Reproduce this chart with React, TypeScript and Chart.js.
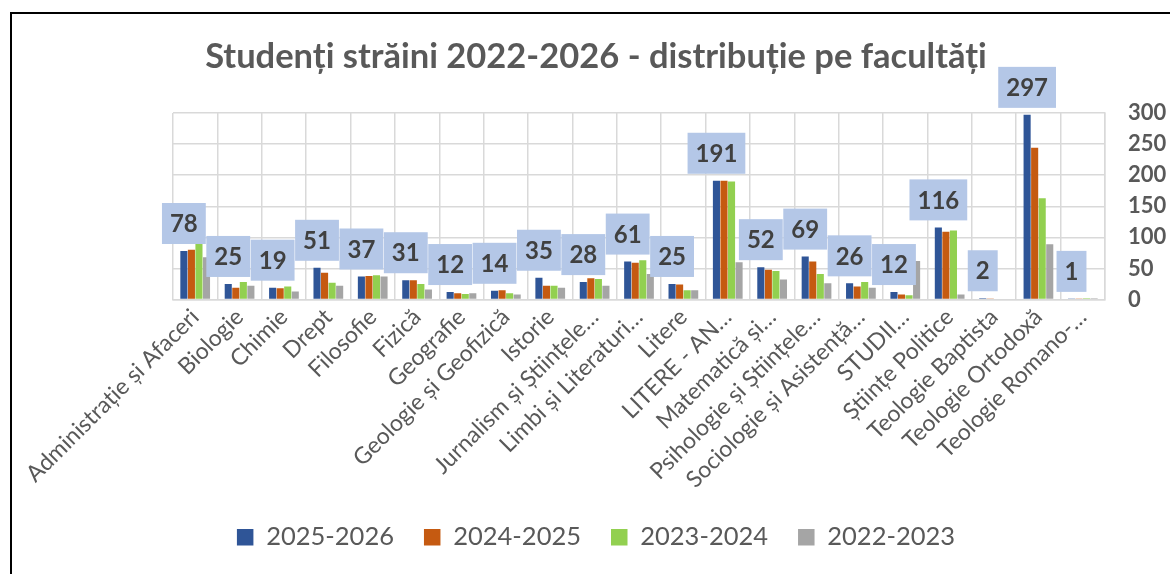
import React, { useEffect, useRef } from "react";
import { Chart, registerables } from "chart.js";

Chart.register(...registerables);

const categories = [
  "Administrație și Afaceri",
  "Biologie",
  "Chimie",
  "Drept",
  "Filosofie",
  "Fizică",
  "Geografie",
  "Geologie și Geofizică",
  "Istorie",
  "Jurnalism și Științele…",
  "Limbi și Literaturi…",
  "Litere",
  "LITERE - AN…",
  "Matematică și…",
  "Psihologie și Științele…",
  "Sociologie și Asistență…",
  "STUDII…",
  "Științe Politice",
  "Teologie Baptista",
  "Teologie Ortodoxă",
  "Teologie Romano-…",
];

const seriesNames = ["2025-2026", "2024-2025", "2023-2024", "2022-2023"];
const values2025_2026 = [78, 25, 19, 51, 37, 31, 12, 14, 35, 28, 61, 25, 191, 52, 69, 26, 12, 116, 2, 297, 1];
const values2024_2025 = [80, 19, 18, 43, 38, 31, 10, 15, 22, 34, 59, 24, 191, 48, 61, 21, 8, 109, 1, 244, 1];
const values2023_2024 = [90, 28, 21, 27, 39, 25, 9, 10, 22, 33, 63, 15, 190, 46, 41, 28, 7, 111, 0, 163, 2];
const values2022_2023 = [68, 22, 13, 22, 37, 16, 10, 8, 19, 22, 41, 15, 60, 32, 26, 19, 62, 8, 0, 89, 2];
const seriesColors = ["#2F5597", "#C55A11", "#92D050", "#A5A5A5"];
const yMin = 0;
const yMax = 300;
const yStep = 50;
const titleText = "Studenți străini 2022-2026 - distribuție pe facultăți";

const FONT = "Lato, 'Open Sans', sans-serif";

const framePlugin = {
  id: "frame",
  beforeDraw(chart: any) {
    const ctx = chart.ctx;
    ctx.save();
    ctx.fillStyle = "#ffffff";
    ctx.fillRect(0, 0, chart.width, chart.height);
    ctx.strokeStyle = "#000000";
    ctx.lineWidth = 2;
    ctx.beginPath();
    ctx.moveTo(11, chart.height);
    ctx.lineTo(11, 13);
    ctx.lineTo(chart.width, 13);
    ctx.stroke();
    ctx.restore();
  },
};

const valueBoxPlugin = {
  id: "valueBoxes",
  afterDatasetsDraw(chart: any) {
    const ctx = chart.ctx;
    const meta = chart.getDatasetMeta(0);
    const data = chart.data.datasets[0].data;
    ctx.save();
    ctx.font = `bold 24px ${FONT}`;
    meta.data.forEach((bar: any, i: number) => {
      const txt = String(data[i]);
      const w = ctx.measureText(txt).width + 16;
      const h = 41;
      const x = bar.x - w / 2;
      const y = bar.y - 7 - h;
      ctx.fillStyle = "#B4C7E7";
      ctx.fillRect(x, y, w, h);
      ctx.fillStyle = "#404040";
      ctx.textAlign = "center";
      ctx.textBaseline = "middle";
      ctx.fillText(txt, bar.x, y + h / 2 + 1);
    });
    ctx.restore();
  },
};

export default function App() {
  const canvasRef = useRef<HTMLCanvasElement | null>(null);

  useEffect(() => {
    if (!canvasRef.current) return;
    const seriesValues = [values2025_2026, values2024_2025, values2023_2024, values2022_2023];
    const chart = new Chart(canvasRef.current, {
      type: "bar",
      data: {
        labels: categories,
        datasets: seriesNames.map((name, i) => ({
          label: name,
          data: seriesValues[i],
          backgroundColor: seriesColors[i],
          borderWidth: 0,
          categoryPercentage: 0.68,
          barPercentage: 0.94,
          yAxisID: "y",
        })),
      },
      options: {
        responsive: false,
        animation: false,
        devicePixelRatio: 1,
        layout: { padding: { left: 22, right: 0, top: 0, bottom: 14 } },
        plugins: {
          title: {
            display: true,
            text: titleText,
            color: "#595959",
            font: { family: FONT, size: 34.5, weight: "bold" },
            padding: { top: 36.3, bottom: 35.3 },
          },
          legend: {
            position: "bottom",
            labels: {
              color: "#595959",
              font: { family: FONT, size: 25.5 },
              boxWidth: 16.5,
              boxHeight: 16.5,
              padding: 30,
            },
          },
          tooltip: { enabled: false },
        },
        scales: {
          x: {
            grid: { color: "#D9D9D9", lineWidth: 1.5, offset: true, drawTicks: false },
            border: { color: "#D9D9D9", width: 1.5 },
            ticks: {
              color: "#595959",
              font: { family: FONT, size: 23 },
              maxRotation: 45,
              minRotation: 45,
              autoSkip: false,
              padding: 4,
            },
            afterFit: (s: any) => {
              s.height = 195;
            },
          },
          yl: {
            position: "left",
            display: true,
            grid: { display: false },
            border: { display: false },
            ticks: { display: false },
            afterFit: (s: any) => {
              s.width = 151;
            },
          },
          y: {
            position: "right",
            min: yMin,
            max: yMax,
            grid: { color: "#D9D9D9", lineWidth: 1.5, drawTicks: false },
            border: { color: "#D9D9D9", width: 1.5 },
            ticks: {
              stepSize: yStep,
              color: "#595959",
              font: { family: FONT, size: 22, weight: "bold" },
              padding: 23,
            },
            afterFit: (s: any) => {
              s.width = 65;
            },
          },
        },
      },
      plugins: [framePlugin, valueBoxPlugin],
    });
    return () => chart.destroy();
  }, []);

  return (
    <div style={{ position: "fixed", left: 0, top: 0, width: 1170, height: 574, background: "#fff" }}>
      <canvas ref={canvasRef} width={1170} height={574} style={{ display: "block" }} />
    </div>
  );
}
